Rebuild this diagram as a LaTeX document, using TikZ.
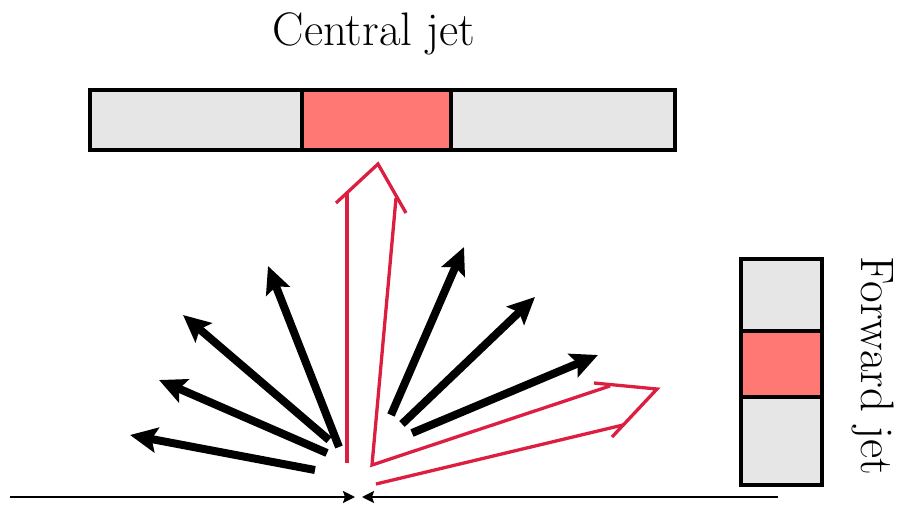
\documentclass[tikz,border=0pt]{standalone}
\usetikzlibrary{arrows.meta}
\definecolor{cellGray}{RGB}{230,230,230}
\definecolor{cellHit}{RGB}{255,120,116}
\definecolor{jetRed}{RGB}{220,30,65}
\begin{document}
\begin{tikzpicture}[x=1pt,y=-1pt,
  cell/.style={draw=black,line width=3.3pt},
  particle/.style={line width=8pt,-{Stealth[length=27pt,width=25pt,inset=5pt]}},
  beam/.style={line width=2.2pt,-{Stealth[length=12pt,width=12pt,inset=2pt]}},
  jetline/.style={draw=jetRed,line width=3.3pt},
  label/.style={inner sep=0pt,font=\fontsize{47}{54}\selectfont}]
\useasboundingbox (0,0) rectangle (901,506);

% central calorimeter strip
\draw[cell,fill=cellGray] (90,90) rectangle (302,150);
\draw[cell,fill=cellHit] (302,90) rectangle (451,150);
\draw[cell,fill=cellGray] (451,90) rectangle (675,150);
\node[label,anchor=base] (central) at (374,45) {Central jet};

% forward calorimeter strip
\draw[cell,fill=cellGray] (741,259) rectangle (822,331);
\draw[cell,fill=cellHit] (741,331) rectangle (822,397);
\draw[cell,fill=cellGray] (741,397) rectangle (822,485);
\node[label,anchor=base,rotate=-90] (forward) at (861,366) {Forward jet};

% incoming beams
\coordinate (bL) at (10,497);
\coordinate (bLtip) at (355,497);
\coordinate (bR) at (778,497);
\coordinate (bRtip) at (362,497);
\draw[beam] (bL) -- (bLtip);
\draw[beam] (bR) -- (bRtip);

% soft particles, left side
\coordinate (p1a) at (315,470); \coordinate (p1b) at (130,435);
\coordinate (p2a) at (327,453); \coordinate (p2b) at (159,380);
\coordinate (p3a) at (329,440); \coordinate (p3b) at (183,315);
\coordinate (p4a) at (339,447); \coordinate (p4b) at (268,266);
% soft particles, right side
\coordinate (p5a) at (391,415); \coordinate (p5b) at (464,247);
\coordinate (p6a) at (402,424); \coordinate (p6b) at (535,297);
\coordinate (p7a) at (412,433); \coordinate (p7b) at (598,355);
\foreach \i in {1,...,7} {\draw[particle] (p\i a) -- (p\i b);}

% outlined jet arrows
\coordinate (cS1) at (347,463); \coordinate (cS2) at (347,193);
\coordinate (cB1) at (336,203); \coordinate (cTip) at (378,164);
\coordinate (cB2) at (406,213); \coordinate (cS3) at (396,198);
\coordinate (root) at (372,465);
\coordinate (fS1) at (610,386); \coordinate (fB1) at (594,383);
\coordinate (fTip) at (657,389); \coordinate (fB2) at (612,437);
\coordinate (fS2) at (623,425); \coordinate (fS3) at (376,484);
\draw[jetline] (cS1) -- (cS2);
\draw[jetline] (cB1) -- (cTip) -- (cB2);
\draw[jetline] (cS3) -- (root) -- (fS1);
\draw[jetline] (fB1) -- (fTip) -- (fB2);
\draw[jetline] (fS2) -- (fS3);
\end{tikzpicture}
\end{document}
